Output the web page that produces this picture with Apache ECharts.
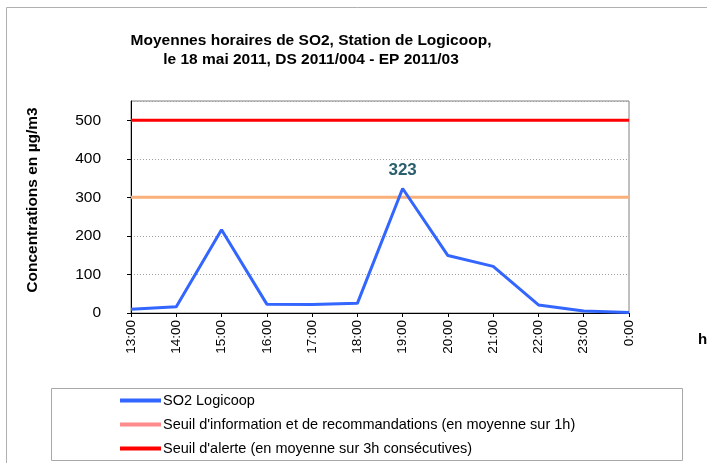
<!DOCTYPE html>
<html>
  <head>
    <meta charset="utf-8">
    <title>ECharts</title>
    <script src="https://cdn.jsdelivr.net/npm/echarts@6/dist/echarts.min.js"></script>
  </head>
  <body style="margin:0;background:#fff;">
    <div id="main" style="width:707px;height:463px;"></div>
    <script type="text/javascript">
      // données
      var hours = ['13:00', '14:00', '15:00', '16:00', '17:00', '18:00', '19:00', '20:00', '21:00', '22:00', '23:00', '0:00'];
      var so2 = [10, 16, 216, 23, 22, 25, 323, 149, 121, 21, 5, 1];
      var seuilInfo = [300, 300, 300, 300, 300, 300, 300, 300, 300, 300, 300, 300];
      var seuilAlerte = [500, 500, 500, 500, 500, 500, 500, 500, 500, 500, 500, 500];
      var yTicks = [0, 100, 200, 300, 400, 500];

      var font = 'Liberation Sans, Arial, sans-serif';
      var myChart = echarts.init(document.getElementById('main'));
      var maxSo2 = Math.max.apply(null, so2);

      myChart.setOption({
        animation: false,
        title: {
          text: 'Moyennes horaires de SO2, Station de Logicoop,\nle 18 mai 2011, DS 2011/004 - EP 2011/03',
          left: 306,
          top: 26,
          textAlign: 'center',
          textStyle: {fontFamily: font, fontSize: 15.5, fontWeight: 'bold', color: '#000', lineHeight: 19}
        },
        grid: {left: 131, right: 78, top: 101, bottom: 150, show: true, borderColor: '#808080', borderWidth: 1},
        legend: {
          orient: 'vertical',
          left: 120,
          top: 393,
          height: 120,
          padding: 0,
          itemWidth: 41,
          itemHeight: 4,
          itemGap: 9,
          icon: 'rect',
          textStyle: {fontFamily: font, fontSize: 14.5, color: '#000', padding: [0, 0, 0, -3]},
          data: [
            {name: 'SO2 Logicoop', itemStyle: {color: '#3366FF'}},
            {name: "Seuil d'information et de recommandations (en moyenne sur 1h)", itemStyle: {color: '#FF8C8C'}},
            {name: "Seuil d'alerte (en moyenne sur 3h consécutives)", itemStyle: {color: '#FF0000'}}
          ]
        },
        xAxis: {
          type: 'category',
          boundaryGap: false,
          data: hours,
          axisLine: {lineStyle: {color: '#000'}},
          axisTick: {length: 4, lineStyle: {color: '#000'}},
          axisLabel: {rotate: 90, margin: 7, fontFamily: font, fontSize: 13.5, color: '#000'},
          splitLine: {show: false}
        },
        yAxis: {
          type: 'value',
          min: 0,
          max: 550,
          interval: 100,
          axisLine: {show: true, lineStyle: {color: '#000'}},
          axisTick: {show: true, length: 4, lineStyle: {color: '#000'}},
          axisLabel: {
            margin: 30, fontFamily: font, fontSize: 15.5, color: '#000', showMaxLabel: false,
            formatter: function (v) { return yTicks.indexOf(v) >= 0 ? v : ''; }
          },
          splitLine: {lineStyle: {color: '#a0a0a0', type: [1, 2]}}
        },
        series: [
          {
            name: "Seuil d'information et de recommandations (en moyenne sur 1h)",
            type: 'line',
            data: seuilInfo,
            symbol: 'none',
            lineStyle: {color: '#FAB07A', width: 3},
            itemStyle: {color: '#FF8C8C'}
          },
          {
            name: "Seuil d'alerte (en moyenne sur 3h consécutives)",
            type: 'line',
            data: seuilAlerte,
            symbol: 'none',
            lineStyle: {color: '#FF0000', width: 3},
            itemStyle: {color: '#FF0000'}
          },
          {
            name: 'SO2 Logicoop',
            type: 'line',
            z: 5,
            symbol: 'circle',
            symbolSize: 0,
            showSymbol: true,
            data: so2.map(function (v) {
              if (v === maxSo2) {
                return {value: v, label: {show: true, position: 'top', distance: 10,
                  fontFamily: font, fontSize: 17, fontWeight: 'bold', color: '#2B5F6E'}};
              }
              return v;
            }),
            lineStyle: {color: '#3366FF', width: 3},
            itemStyle: {color: '#3366FF'}
          }
        ],
        graphic: [
          {type: 'rect', shape: {x: 6.5, y: 7.5, width: 720, height: 480},
            style: {fill: 'none', stroke: '#b0b0b0', lineWidth: 1}, silent: true},
          {type: 'rect', shape: {x: 51.5, y: 388.5, width: 631, height: 72},
            style: {fill: 'none', stroke: '#a8a8a8', lineWidth: 1}, silent: true},
          {type: 'text', x: 33, y: 200, rotation: Math.PI / 2,
            style: {text: 'Concentrations en µg/m3', fontFamily: font, fontSize: 15.5, fontWeight: 'bold',
              fill: '#000', align: 'center', verticalAlign: 'middle'}},
          {type: 'text', x: 698, y: 332,
            style: {text: 'h', fontFamily: font, fontSize: 15, fontWeight: 'bold', fill: '#000'}}
        ]
      });
    </script>
  </body>
</html>
